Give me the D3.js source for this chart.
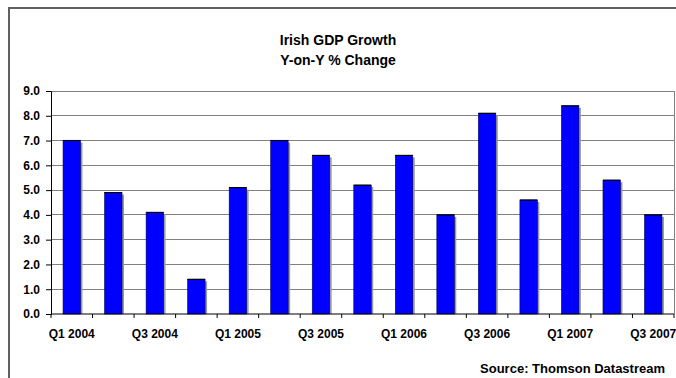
<!DOCTYPE html>
<html>
<head>
<meta charset="utf-8">
<script src="https://cdn.jsdelivr.net/npm/d3@7"></script>
<style>
  html, body { margin: 0; padding: 0; background: #fff; }
  svg { display: block; }
  text { font-family: "Liberation Sans", Arial, sans-serif; font-weight: bold; fill: #000; }
</style>
</head>
<body>
<svg id="chart" width="676" height="378"></svg>
<script>
// Quarterly year-on-year GDP growth, Ireland
const quarters = ["Q1 2004", "Q2 2004", "Q3 2004", "Q4 2004",
                  "Q1 2005", "Q2 2005", "Q3 2005", "Q4 2005",
                  "Q1 2006", "Q2 2006", "Q3 2006", "Q4 2006",
                  "Q1 2007", "Q2 2007", "Q3 2007"];
const growth = [7.0, 4.9, 4.1, 1.4, 5.1, 7.0, 6.4, 5.2, 6.4, 4.0, 8.1, 4.6, 8.4, 5.4, 4.0];
const yTicks = [0, 1, 2, 3, 4, 5, 6, 7, 8, 9];
const xLabels = ["Q1 2004", "Q3 2004", "Q1 2005", "Q3 2005", "Q1 2006", "Q3 2006", "Q1 2007", "Q3 2007"];
const titleLines = ["Irish GDP Growth", "Y-on-Y % Change"];
const sourceNote = "Source: Thomson Datastream";

const svg = d3.select("#chart");
const plot = { left: 51, top: 91, right: 674, bottom: 314 };

// Outer chart frame (continues past the right and bottom edges)
svg.append("rect")
  .attr("x", 9).attr("y", 8).attr("width", 720).attr("height", 420)
  .attr("fill", "none").attr("stroke", "#606060").attr("stroke-width", 2);

// Titles
svg.selectAll("text.title").data(titleLines).join("text")
  .attr("class", "title")
  .attr("x", 338).attr("y", (d, i) => 45 + i * 20)
  .attr("text-anchor", "middle")
  .style("font-size", "14px")
  .text(d => d);

const x = d3.scaleBand().domain(quarters)
  .range([plot.left, plot.right]).paddingInner(0.58).paddingOuter(0.29);
const y = d3.scaleLinear().domain([0, 9]).range([plot.bottom, plot.top]);

// Horizontal gridlines
svg.append("g").selectAll("line").data(yTicks.filter(d => d > 0)).join("line")
  .attr("x1", plot.left).attr("x2", plot.right)
  .attr("y1", d => y(d)).attr("y2", d => y(d))
  .attr("stroke", "#808080").attr("stroke-width", 1).attr("shape-rendering", "crispEdges");

// Plot-area right border
svg.append("line")
  .attr("x1", plot.right).attr("x2", plot.right)
  .attr("y1", plot.top).attr("y2", plot.bottom)
  .attr("stroke", "#808080").attr("shape-rendering", "crispEdges");

// Bars: drop shadow, fill, dark top edge
const bars = svg.append("g").selectAll("g").data(growth).join("g");
bars.append("rect")
  .attr("x", (d, i) => x(quarters[i]) + 2)
  .attr("y", d => y(d) + 2)
  .attr("width", x.bandwidth())
  .attr("height", d => plot.bottom - y(d) - 2)
  .attr("fill", "#9a9a9a");
bars.append("rect")
  .attr("x", (d, i) => x(quarters[i]))
  .attr("y", d => y(d))
  .attr("width", x.bandwidth())
  .attr("height", d => plot.bottom - y(d))
  .attr("fill", "#0000ff")
  .attr("stroke", "#000060").attr("stroke-width", 0.6);
bars.append("line")
  .attr("x1", (d, i) => x(quarters[i])).attr("x2", (d, i) => x(quarters[i]) + x.bandwidth())
  .attr("y1", d => y(d)).attr("y2", d => y(d))
  .attr("stroke", "#000").attr("stroke-width", 1.2);

// Y axis
const yAxis = svg.append("g")
  .attr("transform", `translate(${plot.left},0)`)
  .call(d3.axisLeft(y).tickValues(yTicks).tickFormat(d3.format(".1f")).tickSize(5).tickPadding(6));
yAxis.select(".domain").attr("stroke", "#000");
yAxis.selectAll(".tick line").attr("stroke", "#000");
yAxis.selectAll("text").style("font-size", "12px").style("font-family", "Liberation Sans, Arial, sans-serif").style("font-weight", "bold");

// X axis: ticks at band boundaries, labels on every other quarter
const xAxisG = svg.append("g");
xAxisG.append("line")
  .attr("x1", plot.left).attr("x2", plot.right)
  .attr("y1", plot.bottom).attr("y2", plot.bottom)
  .attr("stroke", "#000");
const step = x.step();
const boundaries = d3.range(quarters.length + 1).map(i => plot.left + i * step);
xAxisG.selectAll("line.tick").data(boundaries).join("line")
  .attr("class", "tick")
  .attr("x1", d => d).attr("x2", d => d)
  .attr("y1", plot.bottom).attr("y2", plot.bottom + 4)
  .attr("stroke", "#000");
xAxisG.selectAll("text").data(xLabels).join("text")
  .attr("x", d => x(d) + x.bandwidth() / 2)
  .attr("y", 338)
  .attr("text-anchor", "middle")
  .style("font-size", "12px")
  .text(d => d);

// Source note
svg.append("text")
  .attr("x", 665).attr("y", 373)
  .attr("text-anchor", "end")
  .style("font-size", "13px")
  .text(sourceNote);
</script>
</body>
</html>
